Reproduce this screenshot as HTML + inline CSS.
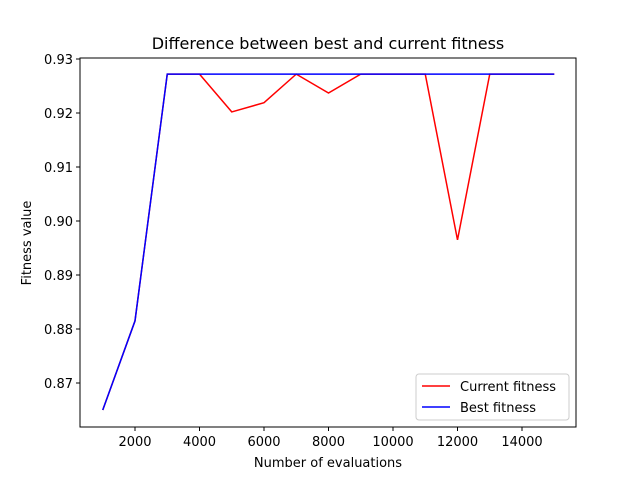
<!DOCTYPE html>
<html><head><meta charset="utf-8"><style>
body{margin:0;background:#fff}
svg text{font-family:"DejaVu Sans","Liberation Sans",sans-serif;fill:#000}
</style></head><body>
<svg id="chart" width="640" height="480">
<rect width="640" height="480" fill="#fff"/>
<text x="328" y="49" font-size="16" text-anchor="middle">Difference between best and current fitness</text>
<g id="ticks"></g>
<g id="lines"></g>
<rect x="80" y="58" width="496" height="369" fill="none" stroke="#000" stroke-width="1"/>
<text x="328" y="467" font-size="13" text-anchor="middle">Number of evaluations</text>
<text transform="translate(31,243) rotate(-90)" font-size="13" text-anchor="middle">Fitness value</text>
<g>
<rect x="416" y="374" width="153" height="46" rx="3" fill="#fff" stroke="#ccc"/>
<line x1="422" y1="386" x2="450" y2="386" stroke="red" stroke-width="1.5"/>
<text x="460" y="391" font-size="13">Current fitness</text>
<line x1="422" y1="407" x2="450" y2="407" stroke="blue" stroke-width="1.5"/>
<text x="460" y="412" font-size="13">Best fitness</text>
</g>
</svg>
<script>
const evals=[1000,2000,3000,4000,5000,6000,7000,8000,9000,10000,11000,12000,13000,14000,15000];
const currentFitness=[0.865,0.8815,0.9272,0.9272,0.9202,0.9219,0.9272,0.9237,0.9272,0.9272,0.9272,0.8965,0.9272,0.9272,0.9272];
const bestFitness=[0.865,0.8815,0.9272,0.9272,0.9272,0.9272,0.9272,0.9272,0.9272,0.9272,0.9272,0.9272,0.9272,0.9272,0.9272];
const xTicks=[2000,4000,6000,8000,10000,12000,14000];
const yTicks=[0.87,0.88,0.89,0.90,0.91,0.92,0.93];
const yLabels=["0.87","0.88","0.89","0.90","0.91","0.92","0.93"];
const NS="http://www.w3.org/2000/svg";
function xs(v){return 135+(v-2000)*0.03225;}
function ys(v){return 59+(0.93-v)*5400;}
const tg=document.getElementById('ticks');
xTicks.forEach(t=>{
 const l=document.createElementNS(NS,'line');
 l.setAttribute('x1',xs(t));l.setAttribute('x2',xs(t));l.setAttribute('y1',427);l.setAttribute('y2',431);l.setAttribute('stroke','#000');
 
 
 tg.appendChild(l);
 const tx=document.createElementNS(NS,'text');
 tx.setAttribute('x',xs(t));tx.setAttribute('y',446);tx.setAttribute('font-size','13');tx.setAttribute('text-anchor','middle');
 tx.textContent=t;
 
 
 tg.appendChild(tx);
});
yTicks.forEach((t,i)=>{
 const l=document.createElementNS(NS,'line');
 l.setAttribute('x1',76);l.setAttribute('x2',80);l.setAttribute('y1',ys(t));l.setAttribute('y2',ys(t));l.setAttribute('stroke','#000');
 
 
 tg.appendChild(l);
 const tx=document.createElementNS(NS,'text');
 tx.setAttribute('x',73);tx.setAttribute('y',ys(t)+5);tx.setAttribute('font-size','13');tx.setAttribute('text-anchor','end');
 tx.textContent=yLabels[i];
 
 
 tg.appendChild(tx);
});
const lg=document.getElementById('lines');
function drawLine(vals,color,name){
 const p=document.createElementNS(NS,'polyline');
 p.setAttribute('points',vals.map((v,i)=>xs(evals[i])+','+ys(v)).join(' '));
 p.setAttribute('fill','none');p.setAttribute('stroke',color);p.setAttribute('stroke-width','1.5');
 
 
 lg.appendChild(p);
}
drawLine(currentFitness,'red','current-fitness-line');
drawLine(bestFitness,'blue','best-fitness-line');
</script>
</body></html>
